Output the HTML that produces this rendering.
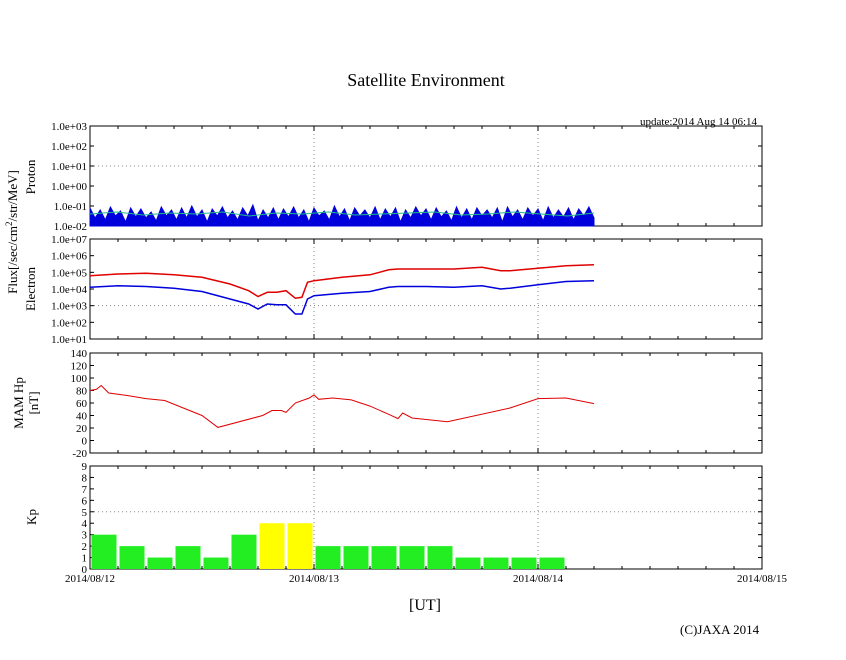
<!DOCTYPE html>
<html><head><meta charset="utf-8"><style>
body{margin:0;background:#fff}
svg text{font-family:"Liberation Serif",serif;fill:#000}
</style></head><body>
<svg id="c" width="846" height="655" xmlns="http://www.w3.org/2000/svg">
<text x="426" y="86" font-size="18" text-anchor="middle">Satellite Environment</text>
<text x="640" y="125" font-size="11">update:2014 Aug 14 06:14</text>
<text transform="translate(17,232) rotate(-90)" font-size="13" text-anchor="middle">Flux[/sec/cm<tspan dy="-5" font-size="9">2</tspan><tspan dy="5">/str/MeV]</tspan></text>
<text transform="translate(35,177) rotate(-90)" font-size="13" text-anchor="middle">Proton</text>
<text transform="translate(35,289) rotate(-90)" font-size="13" text-anchor="middle">Electron</text>
<text transform="translate(23,403) rotate(-90)" font-size="13" text-anchor="middle">MAM Hp</text>
<text transform="translate(38,403) rotate(-90)" font-size="13" text-anchor="middle">[nT]</text>
<text transform="translate(36,517) rotate(-90)" font-size="13" text-anchor="middle">Kp</text>
<text x="425" y="610" font-size="16" text-anchor="middle">[UT]</text>
<text x="680" y="634" font-size="13">(C)JAXA 2014</text>
<g id="g"></g>
</svg>
<script>
const dayLabels=["2014/08/12","2014/08/13","2014/08/14","2014/08/15"];
const protonBlue=[-1.1,-1.6,-1.2,-1.7,-1.05,-1.5,-1.25,-1.8,-1.1,-1.55,-1.15,-1.6,-1.3,-1.75,-1.05,-1.5,-1.2,-1.7,-1.1,-1.6,-1.0,-1.55,-1.2,-1.8,-1.15,-1.5,-1.05,-1.6,-1.25,-1.7,-1.1,-1.5,-0.95,-1.75,-1.2,-1.6,-1.1,-1.7,-1.15,-1.55,-1.05,-1.6,-1.2,-1.8,-1.1,-1.5,-1.25,-1.7,-1.0,-1.55,-1.15,-1.75,-1.1,-1.5,-1.2,-1.6,-1.05,-1.7,-1.15,-1.55,-1.1,-1.8,-1.2,-1.6,-1.05,-1.5,-1.15,-1.7,-1.1,-1.55,-1.25,-1.75,-1.05,-1.6,-1.15,-1.7,-1.1,-1.5,-1.2,-1.6,-1.1,-1.8,-1.05,-1.55,-1.2,-1.7,-1.1,-1.5,-1.15,-1.75,-1.05,-1.6,-1.2,-1.55,-1.1,-1.7,-1.15,-1.5,-1.05,-1.6];
const protonGreen=[-1.4,-1.3,-1.45,-1.35,-1.4,-1.3,-1.5,-1.35,-1.4,-1.3,-1.45,-1.4,-1.35,-1.3,-1.45,-1.4,-1.3,-1.4,-1.5,-1.35];
const elecTimes=[0,3,6,9,12,15,17,18,19,20,21,22,22.7,23.3,24,27,30,32,33,36,39,42,44,45,48,51,54];
const elecRed=[4.8,4.9,4.95,4.85,4.7,4.3,3.9,3.55,3.8,3.8,3.9,3.45,3.5,4.4,4.5,4.7,4.85,5.15,5.2,5.2,5.2,5.3,5.1,5.1,5.25,5.4,5.45];
const elecBlue=[4.1,4.2,4.15,4.05,3.85,3.4,3.1,2.8,3.1,3.05,3.05,2.5,2.5,3.4,3.6,3.75,3.85,4.1,4.15,4.15,4.1,4.2,4.0,4.05,4.25,4.45,4.5];
const mamTimes=[0,0.7,1.2,2,4,6,8,10,12,13.7,18.5,19.5,20.5,21,22,23.5,24,24.5,26,28,30,32,33,33.5,34.5,38.3,45,48,51,54];
const mamValues=[80,82,88,76,72,67,64,52,40,21,40,48,48,45,60,68,73,66,68,65,55,42,35,44,36,30,52,67,68,59];
const kpValues=[3,2,1,2,1,3,4,4,2,2,2,2,2,1,1,1,1];
const NS="http://www.w3.org/2000/svg";
const g=document.getElementById('g');
const X0=90,X1=762,DAY=(X1-X0)/3;
const xs=h=>X0+h/24*DAY;
function el(t,a,p){const e=document.createElementNS(NS,t);for(const k in a)e.setAttribute(k,a[k]);(p||g).appendChild(e);return e;}
function panel(name,top,bot,ticks,grids,yfn){
  const fr=el('rect',{x:X0,y:top,width:X1-X0,height:bot-top,fill:'none',stroke:'#000','stroke-width':1});
  
  
  for(let d=1;d<3;d++){const l=el('line',{x1:xs(d*24),x2:xs(d*24),y1:top,y2:bot,stroke:'#888','stroke-dasharray':'1,3'});
    
    }
  for(const v of grids){const y=yfn(v);const l=el('line',{x1:X0,x2:X1,y1:y,y2:y,stroke:'#888','stroke-dasharray':'1,3'});
    
    }
  for(let h=0;h<=72;h+=3){const x=xs(h);const L=h%24==0?5:3;
    el('line',{x1:x,x2:x,y1:top,y2:top+L,stroke:'#000'});el('line',{x1:x,x2:x,y1:bot,y2:bot-L,stroke:'#000'});}
  for(const t of ticks){const y=yfn(t.v);el('line',{x1:X0,x2:X0+4,y1:y,y2:y,stroke:'#000'});el('line',{x1:X1,x2:X1-4,y1:y,y2:y,stroke:'#000'});
    const tx=el('text',{x:X0-3,y:y+4,'font-size':11,'text-anchor':'end'});tx.textContent=t.l;
    
    }
}
function line(name,times,vals,yfn,color,w){
  const pts=times.map((t,i)=>xs(t).toFixed(1)+','+yfn(vals[i]).toFixed(1)).join(' ');
  const p=el('polyline',{points:pts,fill:'none',stroke:color,'stroke-width':w||1});
  
  
}
const fmt=e=>'1.0e'+(e<0?'-':'+')+String(Math.abs(e)).padStart(2,'0');
// proton
const yP=v=>226-(v+2)*20;
const pt=[];for(let e=-2;e<=3;e++)pt.push({v:e,l:fmt(e)});
panel('proton',126,226,pt,[1],yP);
{const tms=protonBlue.map((_,i)=>i*54/(protonBlue.length-1));
 const pts=[xs(0)+','+yP(-2)].concat(tms.map((t,i)=>xs(t).toFixed(1)+','+yP(protonBlue[i]).toFixed(1))).concat([xs(54)+','+yP(-2)]).join(' ');
 const a=el('polygon',{points:pts,fill:'#0000dd',stroke:'#0000dd','stroke-width':1});
 
 }
line('proton-green-series',protonGreen.map((_,i)=>i*54/(protonGreen.length-1)),protonGreen,yP,'#22bb88',1);
// electron
const yE=v=>339-(v-1)*(100/6);
const et=[];for(let e=1;e<=7;e++)et.push({v:e,l:fmt(e)});
panel('electron',239,339,et,[3],yE);
line('electron-red-series',elecTimes,elecRed,yE,'#e00000',1.5);
line('electron-blue-series',elecTimes,elecBlue,yE,'#0000dd',1.5);
// mam
const yM=v=>453-(v+20)*100/160;
const mt=[];for(let v=-20;v<=140;v+=20)mt.push({v:v,l:String(v)});
panel('mam',353,453,mt,[],yM);
line('mam-hp-series',mamTimes,mamValues,yM,'#e00000',1);
// kp
const yK=v=>569-v*103/9;
const kt=[];for(let v=0;v<=9;v++)kt.push({v:v,l:String(v)});
panel('kp',466,569,kt,[5],yK);
kpValues.forEach((v,i)=>{const x=xs(i*3)+1.5,w=xs(3)-X0-3;
  const r=el('rect',{x:x,y:yK(v),width:w,height:569-yK(v),fill:v>=4?'#ffff00':'#22ee22'});
  
  });
dayLabels.forEach((d,i)=>{const t=el('text',{x:xs(i*24),y:582,'font-size':11,'text-anchor':'middle'});t.textContent=d;
  
  });
</script>
</body></html>
